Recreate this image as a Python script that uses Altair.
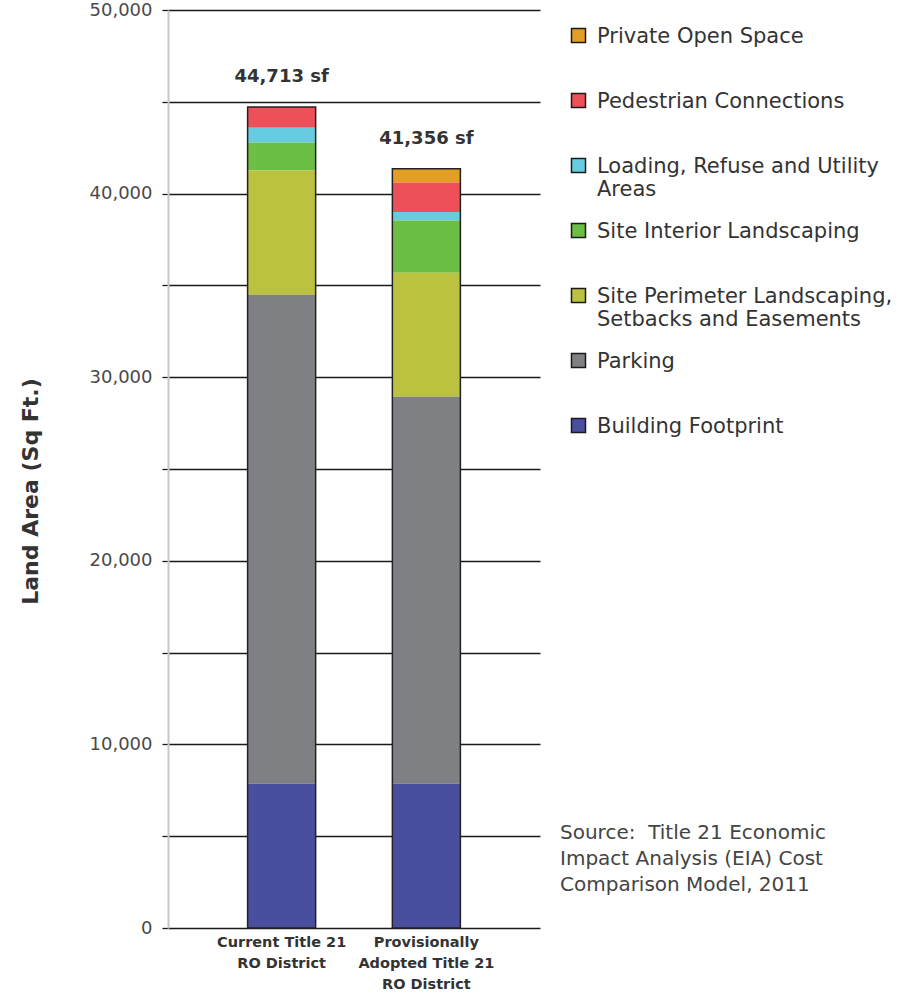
import altair as alt
import pandas as pd

# Land area by use, square feet, for each development standard
districts = ["Current Title 21|RO District", "Provisionally|Adopted Title 21|RO District"]
categories = [
    "Private Open Space",
    "Pedestrian Connections",
    "Loading, Refuse and Utility|Areas",
    "Site Interior Landscaping",
    "Site Perimeter Landscaping,|Setbacks and Easements",
    "Parking",
    "Building Footprint",
]
colors = ["#E39E26", "#EE5059", "#68CCE0", "#6CBE45", "#BBC23F", "#7F8083", "#4A4E9F"]
current_values = [0, 1133, 800, 1520, 6770, 26630, 7860]
adopted_values = [746, 1610, 470, 2840, 6760, 21070, 7860]
y_ticks = list(range(0, 50001, 5000))
source_note = "Source:\u00a0 Title 21 Economic\nImpact Analysis (EIA) Cost\nComparison Model, 2011"

FONT = "DejaVu Sans"

rows = []
for district, values in zip(districts, [current_values, adopted_values]):
    for rank, (cat, val) in enumerate(zip(categories, values)):
        # stack_rank puts Building Footprint at the bottom of each bar
        rows.append({"district": district, "category": cat, "area": val,
                     "stack_rank": len(categories) - 1 - rank})
df = pd.DataFrame(rows)

x_enc = alt.X(
    "district:N",
    sort=districts,
    title=None,
    scale=alt.Scale(paddingInner=0.53, paddingOuter=0.55),
    axis=alt.Axis(
        labelExpr="split(datum.label, '|')",
        labelAngle=0,
        labelFont=FONT,
        labelFontSize=14.5,
        labelFontWeight="bold",
        labelColor="#333333",
        labelPadding=7,
        labelLineHeight=21,
        domain=False,
        ticks=False,
    ),
)

y_scale = alt.Scale(domain=[0, 50000], nice=False)

base = alt.Chart(df)

segments = base.mark_bar().encode(
    x=x_enc,
    y=alt.Y(
        "area:Q",
        stack="zero",
        scale=y_scale,
        title="Land Area (Sq Ft.)",
        axis=alt.Axis(
            values=y_ticks,
            labelExpr="datum.value % 10000 == 0 ? format(datum.value, ',') : ''",
            labelFont=FONT,
            labelFontSize=18,
            labelColor="#4a4a4a",
            labelPadding=10,
            tickSize=6,
            tickColor="#1a1a1a",
            tickWidth=1.3,
            grid=True,
            gridColor="#1a1a1a",
            gridWidth=1.3,
            domain=True,
            domainColor="#c8c8c8",
            domainWidth=2,
            titleFont=FONT,
            titleFontSize=22,
            titleFontWeight="bold",
            titleColor="#333333",
            titleAngle=-90,
            titleX=-138,
            titleY=481,
            titleAlign="center",
            titleBaseline="middle",
        ),
    ),
    color=alt.Color(
        "category:N",
        scale=alt.Scale(domain=categories, range=colors),
        legend=alt.Legend(
            title=None,
            orient="none",
            legendX=400,
            legendY=22,
            padding=0,
            gridAlign="all",
            rowPadding=20,
            symbolType="M-1,-2H1V0H-1Z",
            symbolSize=196,
            symbolStrokeColor="#1a1a1a",
            symbolStrokeWidth=1.5,
            symbolOpacity=1,
            labelExpr="split(datum.label, '|')",
            labelFont=FONT,
            labelFontSize=21,
            labelColor="#333333",
            labelBaseline="alphabetic",
            labelOffset=8,
            labelLimit=400,
        ),
    ),
    order=alt.Order("stack_rank:Q", sort="ascending"),
)

totals = base.transform_aggregate(
    total="sum(area)", groupby=["district"]
).transform_calculate(
    label="format(datum.total, ',') + ' sf'"
)

outline = totals.mark_bar(filled=False, stroke="#222222", strokeWidth=1.5).encode(
    x=alt.X("district:N", sort=districts),
    y=alt.Y("total:Q", scale=y_scale),
)

total_labels = totals.mark_text(
    font=FONT, fontSize=18, fontWeight="bold", color="#333333", dy=-30
).encode(
    x=alt.X("district:N", sort=districts),
    y=alt.Y("total:Q", scale=y_scale),
    text="label:N",
)

note = alt.Chart(pd.DataFrame({"note": [source_note]})).mark_text(
    font=FONT, fontSize=20, color="#444444", align="left", baseline="top",
    lineBreak="\n", lineHeight=26,
).encode(
    x=alt.value(392),
    y=alt.value(813),
    text="note:N",
)

chart = alt.layer(segments, outline, total_labels, note).properties(
    width=372,
    height=918,
    autosize=alt.AutoSizeParams(type="none"),
    padding={"left": 168, "top": 10, "right": 364, "bottom": 68},
).configure(
    background="white",
    view=alt.ViewConfig(stroke="transparent", strokeWidth=0),
)

chart.save("out.html", embed_options={"renderer": "svg", "actions": False})
